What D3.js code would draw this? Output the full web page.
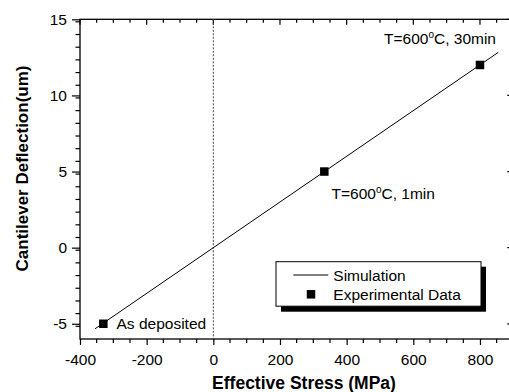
<!DOCTYPE html>
<html>
<head>
<meta charset="utf-8">
<script src="https://d3js.org/d3.v7.min.js"></script>
<style>
  body { margin: 0; background: #fff; }
  svg text { font-family: "Liberation Sans", Arial, sans-serif; fill: #000; }
</style>
</head>
<body>
<svg></svg>
<script>
const width = 509;
const height = 392;

// simulation line (endpoints)
const simStress = [-355, 855];
const simDeflection = [-5.33, 12.83];

// experimental points
const expStress = [-330, 333, 800];
const expDeflection = [-5, 5, 12];

const xTicks = [-400, -200, 0, 200, 400, 600, 800];
const yTicks = [-5, 0, 5, 10, 15];

const svg = d3.select("svg")
    .attr("width", width)
    .attr("height", height);

const x = d3.scaleLinear().domain([-400, 900]).range([80, 513.3]);
const y = d3.scaleLinear().domain([-6, 15]).range([339, 19.3]);

const xMinor = d3.range(-400, 901, 50).filter(v => v % 200 !== 0);
const yMinor = d3.range(0, 26).map(i => -6 + 5 / 6 + i * 5 / 6)
    .filter(v => v < 15.01 && Math.abs(v / 5 - Math.round(v / 5)) > 0.01);

const fontSize = "15.5px";

// frame
svg.append("rect")
    .attr("x", x(-400)).attr("y", y(15))
    .attr("width", x(900) - x(-400)).attr("height", y(-6) - y(15))
    .attr("fill", "none").attr("stroke", "#000").attr("stroke-width", 1.3);

// bottom axis (ticks outward)
const bottomAxis = svg.append("g").attr("transform", `translate(0,${y(-6)})`);
bottomAxis.call(d3.axisBottom(x).tickValues(xTicks).tickSize(6).tickPadding(9).tickFormat(d => String(d)))
    .call(g => g.select(".domain").remove());
bottomAxis.selectAll(".tick line").attr("stroke-width", 1.2);
bottomAxis.selectAll(".tick text").style("font-size", fontSize).attr("font-family", null);
bottomAxis.selectAll(".minor").data(xMinor).enter().append("line")
    .attr("x1", d => x(d)).attr("x2", d => x(d)).attr("y1", 0).attr("y2", 4)
    .attr("stroke", "#000").attr("stroke-width", 1.2);

// left axis (ticks outward)
const leftAxis = svg.append("g").attr("transform", `translate(${x(-400)},0)`);
leftAxis.call(d3.axisLeft(y).tickValues(yTicks).tickSize(8).tickPadding(5).tickFormat(d => String(d)))
    .call(g => g.select(".domain").remove());
leftAxis.selectAll(".tick line").attr("stroke-width", 1.2);
leftAxis.selectAll(".tick text").style("font-size", fontSize).attr("font-family", null);
leftAxis.selectAll(".minor").data(yMinor).enter().append("line")
    .attr("x1", 0).attr("x2", -4.5).attr("y1", d => y(d)).attr("y2", d => y(d))
    .attr("stroke", "#000").attr("stroke-width", 1.2);

// top axis (ticks inward)
const topAxis = svg.append("g").attr("transform", `translate(0,${y(15)})`);
topAxis.selectAll(".major").data(xTicks).enter().append("line")
    .attr("x1", d => x(d)).attr("x2", d => x(d)).attr("y1", 0).attr("y2", 5.5)
    .attr("stroke", "#000").attr("stroke-width", 1.2);
topAxis.selectAll(".minor").data(xMinor).enter().append("line")
    .attr("x1", d => x(d)).attr("x2", d => x(d)).attr("y1", 0).attr("y2", 3.5)
    .attr("stroke", "#000").attr("stroke-width", 1.2);

// right axis (ticks inward)
const rightAxis = svg.append("g").attr("transform", `translate(${x(900)},0)`);
rightAxis.selectAll(".major").data(yTicks).enter().append("line")
    .attr("x1", 0).attr("x2", -6).attr("y1", d => y(d)).attr("y2", d => y(d))
    .attr("stroke", "#000").attr("stroke-width", 1.2);
rightAxis.selectAll(".minor").data(yMinor).enter().append("line")
    .attr("x1", 0).attr("x2", -3.5).attr("y1", d => y(d)).attr("y2", d => y(d))
    .attr("stroke", "#000").attr("stroke-width", 1.2);

// zero-stress dotted line
svg.append("line")
    .attr("x1", x(0)).attr("x2", x(0)).attr("y1", y(15)).attr("y2", y(-6))
    .attr("stroke", "#444").attr("stroke-width", 1).attr("stroke-dasharray", "2,1.5");

// simulation line
const sim = simStress.map((s, i) => [s, simDeflection[i]]);
svg.append("path")
    .datum(sim)
    .attr("d", d3.line().x(d => x(d[0])).y(d => y(d[1])))
    .attr("fill", "none").attr("stroke", "#000").attr("stroke-width", 1);

// experimental squares
const sq = 8.5;
svg.selectAll(".pt")
    .data(expStress.map((s, i) => [s, expDeflection[i]]))
    .enter().append("rect")
    .attr("x", d => x(d[0]) - sq / 2).attr("y", d => y(d[1]) - sq / 2)
    .attr("width", sq).attr("height", sq).attr("fill", "#000");

// annotations
function tempLabel(tx, ty, rest) {
    const t = svg.append("text").attr("x", tx).attr("y", ty).style("font-size", fontSize);
    t.append("tspan").text("T=600");
    t.append("tspan").attr("dy", -6).style("font-size", "10px").text("o");
    t.append("tspan").attr("dy", 6).text("C, " + rest);
}
tempLabel(384, 43.5, "30min");
tempLabel(331.5, 198.5, "1min");
svg.append("text").attr("x", 116.5).attr("y", 328.5).style("font-size", fontSize).text("As deposited");

// legend
svg.append("rect").attr("x", 281).attr("y", 266.7).attr("width", 205).attr("height", 45).attr("fill", "#000");
svg.append("rect").attr("x", 276).attr("y", 261.7).attr("width", 205).attr("height", 44.5)
    .attr("fill", "#fff").attr("stroke", "#000").attr("stroke-width", 1);
svg.append("line").attr("x1", 293.3).attr("x2", 328.3).attr("y1", 275).attr("y2", 275)
    .attr("stroke", "#000").attr("stroke-width", 1);
svg.append("text").attr("x", 333.3).attr("y", 280.5).style("font-size", fontSize).text("Simulation");
svg.append("rect").attr("x", 311 - sq / 2).attr("y", 294.3 - sq / 2).attr("width", sq).attr("height", sq).attr("fill", "#000");
svg.append("text").attr("x", 333.3).attr("y", 299.5).style("font-size", fontSize).text("Experimental Data");

// axis titles
svg.append("text")
    .attr("x", 304).attr("y", 389)
    .attr("text-anchor", "middle")
    .style("font-size", "17.5px").style("font-weight", "bold")
    .text("Effective Stress (MPa)");
svg.append("text")
    .attr("transform", "translate(28,168.5) rotate(-90)")
    .attr("text-anchor", "middle")
    .style("font-size", "17px").style("font-weight", "bold")
    .text("Cantilever Deflection(um)");
</script>
</body>
</html>
